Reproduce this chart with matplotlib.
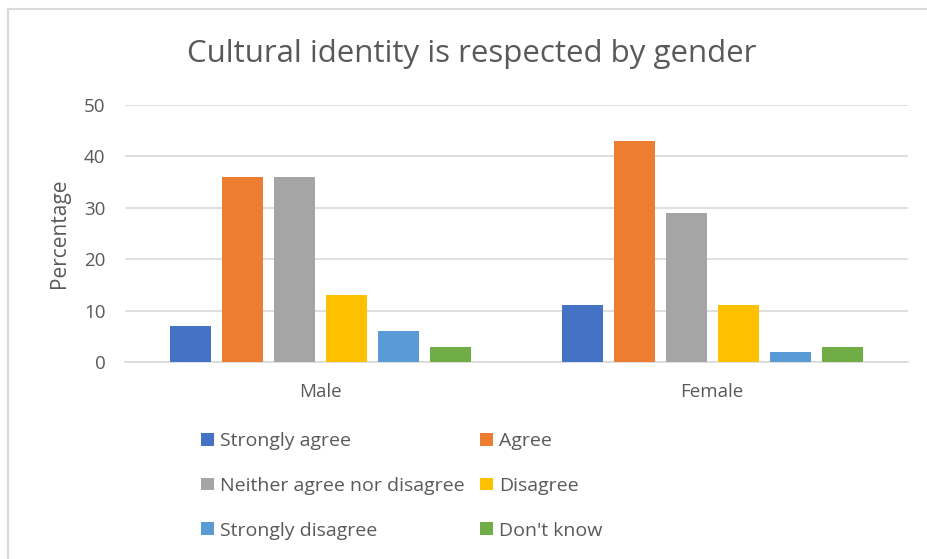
import numpy as np
import matplotlib.pyplot as plt

# Data
genders = ['Male', 'Female']
responses = ['Strongly agree', 'Agree', 'Neither agree nor disagree',
             'Disagree', 'Strongly disagree', "Don't know"]
male = [7, 36, 36, 13, 6, 3]
female = [11, 43, 29, 11, 2, 3]
colors = ['#4472C4', '#ED7D31', '#A5A5A5', '#FFC000', '#5B9BD5', '#70AD47']
y_ticks = [0, 10, 20, 30, 40, 50]

plt.rcParams['font.family'] = ['Open Sans', 'DejaVu Sans']
text_col = '#595959'

fig = plt.figure(figsize=(9.27, 5.59), dpi=100)
ax = fig.add_axes([125 / 927, 1 - 362 / 559, 783 / 927, 257 / 559])

# Chart border (left and top visible in crop)
fig.add_artist(plt.Line2D([8 / 927, 8 / 927], [0, 1 - 9 / 559], color='#D9D9D9', lw=1.5))
fig.add_artist(plt.Line2D([8 / 927, 1], [1 - 9 / 559, 1 - 9 / 559], color='#D9D9D9', lw=1.5))

x = np.arange(len(genders))
step = 52 / 391.5
width = 41 / 391.5
vals = np.array([male, female])
bars = []
for i, resp in enumerate(responses):
    b = ax.bar(x + (i - 2.5) * step, vals[:, i], width=width, color=colors[i],
               label=resp, zorder=3)
    bars.append(b)

ax.set_xlim(-0.5, 1.5)
ax.set_ylim(0, 50)
ax.set_yticks(y_ticks)
ax.set_xticks(x)
ax.set_xticklabels(genders)
ax.grid(axis='y', color='#D9D9D9', lw=1.2, zorder=0)
for s in ['top', 'right', 'left']:
    ax.spines[s].set_visible(False)
ax.spines['bottom'].set_color('#D9D9D9')
ax.spines['bottom'].set_linewidth(1.2)
ax.tick_params(axis='both', length=0, labelsize=13.5, colors=text_col)
ax.tick_params(axis='y', pad=14)
ax.tick_params(axis='x', pad=15)
ax.set_ylabel('Percentage', fontsize=15, color=text_col, labelpad=10)

fig.text(472 / 927, 1 - 54 / 559, 'Cultural identity is respected by gender',
         ha='center', va='center', fontsize=22.5, color=text_col)

# Legend laid out row-wise in two columns, like the original
leg_kw = dict(bbox_transform=fig.transFigure, frameon=False, fontsize=14,
              labelcolor=text_col, handlelength=0.65, handleheight=0.65,
              handletextpad=0.35, labelspacing=1.38, borderpad=0, borderaxespad=0)
leg1 = ax.legend([bars[0], bars[2], bars[4]],
                 [responses[0], responses[2], responses[4]],
                 loc='upper left', bbox_to_anchor=(201 / 927, 1 - 432 / 559), **leg_kw)
ax.add_artist(leg1)
ax.legend([bars[1], bars[3], bars[5]],
          [responses[1], responses[3], responses[5]],
          loc='upper left', bbox_to_anchor=(480 / 927, 1 - 432 / 559), **leg_kw)

fig.savefig('out.png', dpi=100)
